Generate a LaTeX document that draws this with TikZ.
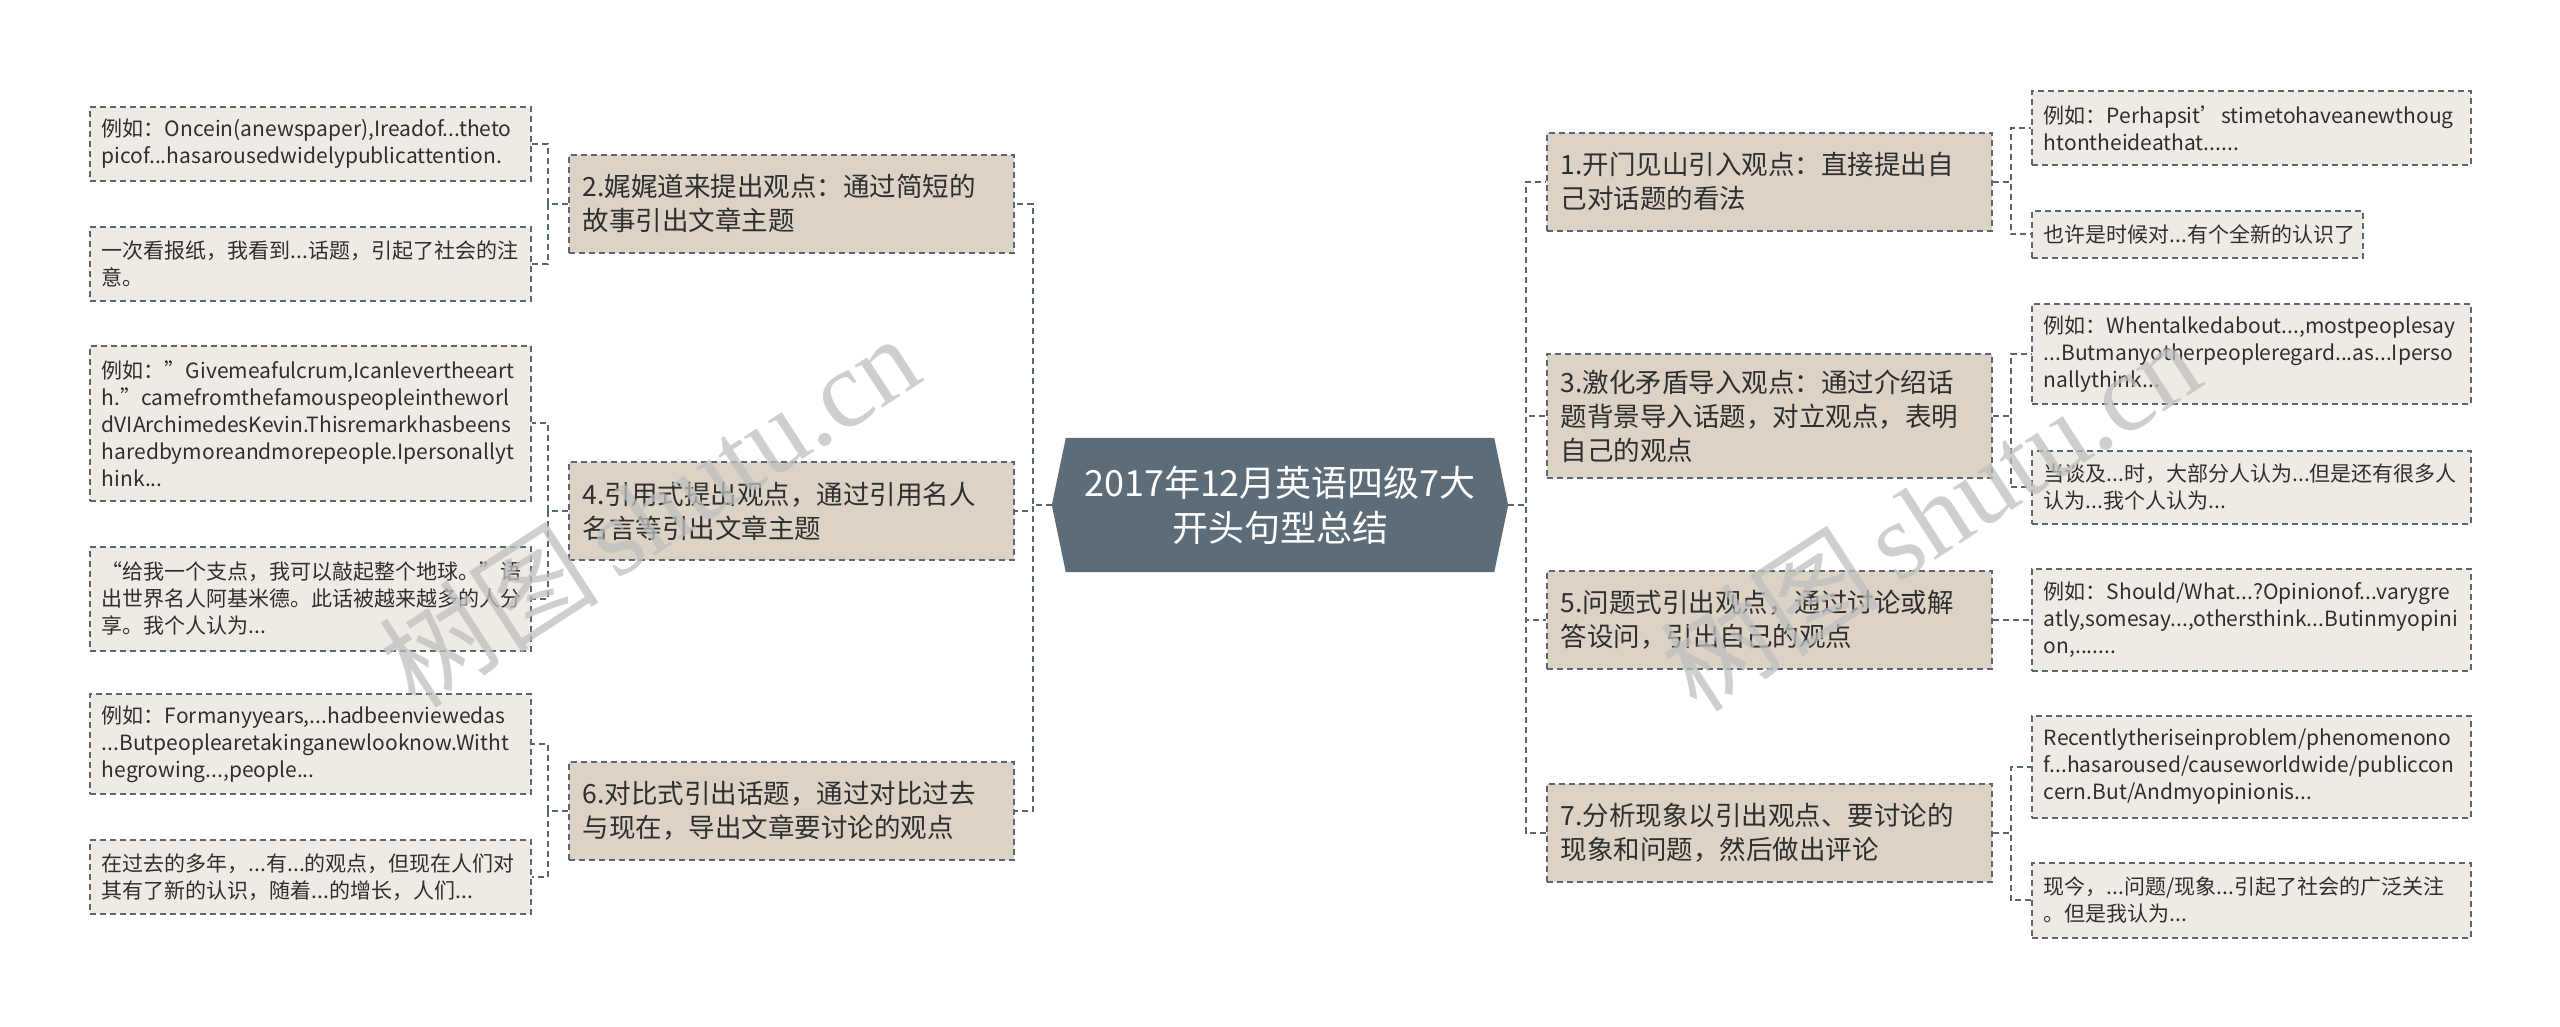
\documentclass[tikz,border=0pt]{standalone}
\usepackage{fontspec}
\setmainfont{Noto Sans CJK SC}
\newfontfamily\wmserif{Liberation Serif}
\usetikzlibrary{backgrounds}
\definecolor{lc}{HTML}{5B6770}
\definecolor{pfill}{HTML}{DCD3C6}
\definecolor{lfill}{HTML}{EFEBE4}
\definecolor{cfill}{HTML}{5C6C78}
\definecolor{tc}{HTML}{2F2F2F}
\newcommand{\myline}[1]{\mbox{#1}}
\tikzset{
  conn/.style={draw=lc, line width=2pt, dash pattern=on 6pt off 4pt},
  boxbase/.style={anchor=north west, draw=lc, line width=1.8pt, dash pattern=on 6pt off 4pt, text=tc, align=left, inner ysep=0pt},
  prim/.style={boxbase, fill=pfill, font=\fontsize{26.5}{34}\selectfont, inner xsep=14pt, text width=417pt, minimum height=98pt},
  leaf/.style={boxbase, fill=lfill, font=\fontsize{21}{27}\selectfont, inner xsep=12pt, text width=417pt},
  wm/.style={rotate=33, text=black!25, opacity=0.75, font=\fontsize{110}{110}\selectfont}
}
\begin{document}
\begin{tikzpicture}[x=1pt,y=-1pt]
\useasboundingbox (0,0) rectangle (2560,1026);

% central node
\node[font=\fontsize{36}{45}\selectfont, text=white, align=center, minimum width=456pt, minimum height=134pt, inner sep=0pt] (c) at (1280,505) {2017年12月英语四级7大\\开头句型总结};
\begin{pgfonlayer}{background}
\fill[cfill] (c.west) -- ([xshift=14pt]c.north west) -- ([xshift=-14pt]c.north east) -- (c.east) -- ([xshift=-14pt]c.south east) -- ([xshift=14pt]c.south west) -- cycle;
\end{pgfonlayer}

% left primaries
\node[prim] (n2) at (568,154) {2.娓娓道来提出观点：通过简短的\\故事引出文章主题};
\node[prim] (n4) at (568,461) {4.引用式提出观点，通过引用名人\\名言等引出文章主题};
\node[prim] (n6) at (568,761) {6.对比式引出话题，通过对比过去\\与现在，导出文章要讨论的观点};

% right primaries
\node[prim] (n1) at (1546,132) {1.开门见山引入观点：直接提出自\\己对话题的看法};
\node[prim, minimum height=124pt] (n3) at (1546,353) {3.激化矛盾导入观点：通过介绍话\\题背景导入话题，对立观点，表明\\自己的观点};
\node[prim] (n5) at (1546,570) {5.问题式引出观点，通过讨论或解\\答设问，引出自己的观点};
\node[prim] (n7) at (1546,783) {7.分析现象以引出观点、要讨论的\\现象和问题，然后做出评论};

% left leaves
\node[leaf, minimum height=74pt] (l2a) at (89,106) {\myline{例如：Oncein(anewspaper),Ireadof...theto}\\\myline{picof...hasarousedwidelypublicattention.}};
\node[leaf, minimum height=74pt] (l2b) at (89,226) {\myline{一次看报纸，我看到...话题，引起了社会的注}\\\myline{意。}};
\node[leaf, minimum height=155pt] (l4a) at (89,345) {\myline{例如：”Givemeafulcrum,Icanlevertheeart}\\\myline{h.”camefromthefamouspeopleintheworl}\\\myline{dVIArchimedesKevin.Thisremarkhasbeens}\\\myline{haredbymoreandmorepeople.Ipersonallyt}\\\myline{hink...}};
\node[leaf, minimum height=104pt] (l4b) at (89,546) {\myline{“给我一个支点，我可以敲起整个地球。”语}\\\myline{出世界名人阿基米德。此话被越来越多的人分}\\\myline{享。我个人认为...}};
\node[leaf, minimum height=100pt] (l6a) at (89,693) {\myline{例如：Formanyyears,...hadbeenviewedas}\\\myline{...Butpeoplearetakinganewlooknow.Witht}\\\myline{hegrowing...,people...}};
\node[leaf, minimum height=74pt] (l6b) at (89,839) {\myline{在过去的多年，...有...的观点，但现在人们对}\\\myline{其有了新的认识，随着...的增长，人们...}};

% right leaves
\node[leaf, minimum height=74pt, text width=415pt] (r1a) at (2031,90) {\myline{例如：Perhapsit’stimetohaveanewthoug}\\\myline{htontheideathat......}};
\node[leaf, minimum height=47pt, text width=307pt] (r1b) at (2031,210) {\myline{也许是时候对...有个全新的认识了}};
\node[leaf, minimum height=100pt, text width=415pt] (r3a) at (2031,303) {\myline{例如：Whentalkedabout...,mostpeoplesay}\\\myline{...Butmanyotherpeopleregard...as...Iperso}\\\myline{nallythink...}};
\node[leaf, minimum height=73pt, text width=415pt] (r3b) at (2031,450) {\myline{当谈及...时，大部分人认为...但是还有很多人}\\\myline{认为...我个人认为...}};
\node[leaf, minimum height=102pt, text width=415pt] (r5a) at (2031,568) {\myline{例如：Should/What...?Opinionof...varygre}\\\myline{atly,somesay...,othersthink...Butinmyopini}\\\myline{on,.......}};
\node[leaf, minimum height=102pt, text width=415pt] (r7a) at (2031,715) {\myline{Recentlytheriseinproblem/phenomenono}\\\myline{f...hasaroused/causeworldwide/publiccon}\\\myline{cern.But/Andmyopinionis...}};
\node[leaf, minimum height=75pt, text width=415pt] (r7b) at (2031,862) {\myline{现今，...问题/现象...引起了社会的广泛关注}\\\myline{。但是我认为...}};

% connectors center -> primaries
\foreach \n in {n2,n4,n6} \draw[conn] (c.west) -- ++(-19,0) |- (\n.east);
\foreach \n in {n1,n3,n5,n7} \draw[conn] (c.east) -- ++(18,0) |- (\n.west);

% connectors primaries -> leaves (left)
\draw[conn] (n2.west) -- ++(-20,0) |- (l2a.east);
\draw[conn] (n2.west) -- ++(-20,0) |- (l2b.east);
\draw[conn] (n4.west) -- ++(-20,0) |- (l4a.east);
\draw[conn] (n4.west) -- ++(-20,0) |- (l4b.east);
\draw[conn] (n6.west) -- ++(-20,0) |- (l6a.east);
\draw[conn] (n6.west) -- ++(-20,0) |- (l6b.east);

% connectors primaries -> leaves (right)
\draw[conn] (n1.east) -- ++(18,0) |- (r1a.west);
\draw[conn] (n1.east) -- ++(18,0) |- (r1b.west);
\draw[conn] (n3.east) -- ++(18,0) |- (r3a.west);
\draw[conn] (n3.east) -- ++(18,0) |- (r3b.west);
\draw[conn] (n5.east) -- (r5a.west);
\draw[conn] (n7.east) -- ++(18,0) |- (r7a.west);
\draw[conn] (n7.east) -- ++(18,0) |- (r7b.west);

% watermark
\node[wm] (wm1) at (649,510) {树图\,{\wmserif shutu.cn}};
\node[wm] (wm2) at (1930,514) {树图\,{\wmserif shutu.cn}};
\end{tikzpicture}
\end{document}
